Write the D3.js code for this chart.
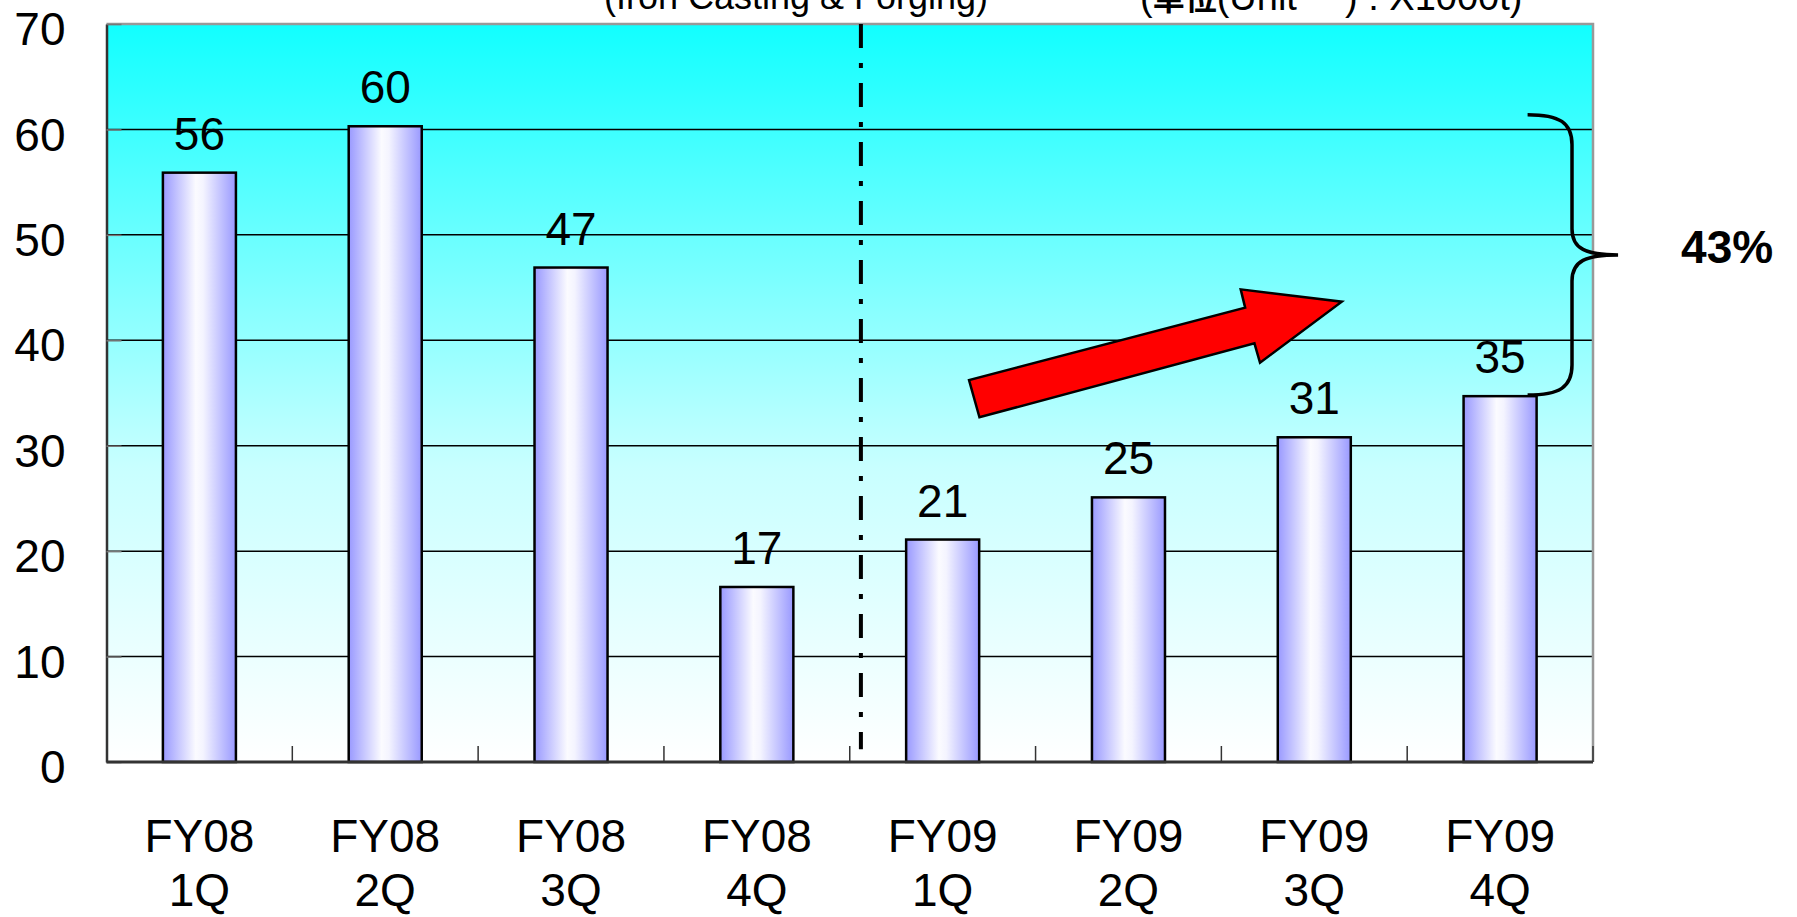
<!DOCTYPE html>
<html>
<head>
<meta charset="utf-8">
<script src="https://cdn.jsdelivr.net/npm/d3@7"></script>
<style>
    html, body { margin: 0; padding: 0; background: #fff; }
    svg text { font-family: "Liberation Sans", Arial, "Noto Sans CJK JP", sans-serif; }
</style>
</head>
<body>
<div id="svgHolder"></div>
<script>
// ------------------------------
// data
// ------------------------------
var categories = ["FY08 1Q", "FY08 2Q", "FY08 3Q", "FY08 4Q", "FY09 1Q", "FY09 2Q", "FY09 3Q", "FY09 4Q"];
var values = [55.9, 60.3, 46.9, 16.6, 21.1, 25.1, 30.8, 34.7];
var yTicks = [0, 10, 20, 30, 40, 50, 60, 70];
var subtitleLeft = "(Iron Casting & Forging)";
// unit note, split in pieces: [text, font size, bold]
var subtitleRight = [["(", 38, false], ["単位", 32, true], ["(Unit", 38, false], [") : X1000t)", 38, false]];
var growthLabel = "43%";

// annotation shapes, in [category position, value] units
var arrowPoints = [[4.698, 32.7], [4.642, 36.23], [6.128, 43.09], [6.104, 44.83],
                   [6.648, 43.66], [6.208, 37.87], [6.178, 39.71]];
var dividerAt = 4.06;
var braceRange = [61.4, 34.8];

var docWidth = 1797, docHeight = 917;
var margin = { top: 24, right: 204, bottom: 155, left: 106.5 }
    , width = docWidth - margin.left - margin.right
    , height = docHeight - margin.top - margin.bottom;

var x = d3.scaleBand().domain(categories).range([0, width]).padding(0);
var xLin = d3.scaleLinear().domain([0, categories.length]).range([0, width]);
var y = d3.scaleLinear().domain([0, 70]).range([height, 0]);
var barWidth = x.bandwidth() * 0.393;

var chart = d3.select('#svgHolder')
    .append('svg')
    .attr('width', docWidth)
    .attr('height', docHeight);

var defs = chart.append('defs');

// background: cyan at top fading to white
var bgGradient = defs.append('linearGradient')
    .attr('id', 'bggradient')
    .attr('x1', 0).attr('y1', 0).attr('x2', 0).attr('y2', 1);
[[0, '#11ffff'], [0.4, '#8cffff'], [0.6, '#c8ffff'], [1, '#ffffff']].forEach(function (s) {
    bgGradient.append('stop').attr('offset', s[0]).attr('stop-color', s[1]);
});

// bar: blue edges, white centre
var barGradient = defs.append('linearGradient')
    .attr('id', 'bargradient')
    .attr('x1', 0).attr('y1', 0).attr('x2', 1).attr('y2', 0);
[[0, '#9999ff'], [0.45, '#fbfbff'], [0.55, '#f4f4ff'], [1, '#9999ff']].forEach(function (s) {
    barGradient.append('stop').attr('offset', s[0]).attr('stop-color', s[1]);
});

var main = chart.append('g')
    .attr('transform', 'translate(' + margin.left + ',' + margin.top + ')');

main.append('rect')
    .attr('width', width)
    .attr('height', height)
    .attr('fill', 'url(#bggradient)');

// grid lines
main.append('g')
    .selectAll('line')
    .data(yTicks.filter(function (d) { return d > 0 && d < 70; }))
    .enter().append('line')
    .attr('x1', 0).attr('x2', width)
    .attr('y1', function (d) { return y(d); })
    .attr('y2', function (d) { return y(d); })
    .attr('stroke', '#000')
    .attr('stroke-width', 1.5);

// top and right border
main.append('path')
    .attr('d', 'M0,' + y(70) + 'H' + width + 'V' + y(0))
    .attr('fill', 'none')
    .attr('stroke', '#999')
    .attr('stroke-width', 2.5);

// y axis
var yAxis = d3.axisLeft(y).tickValues(yTicks).tickSizeInner(-15).tickSizeOuter(0).tickPadding(41);
var yg = main.append('g').call(yAxis);
yg.select('.domain').attr('stroke', '#333').attr('stroke-width', 2.5);
yg.selectAll('.tick line').attr('stroke', '#777').attr('stroke-width', 1.5);
yg.selectAll('.tick text')
    .attr('font-size', 46)
    .attr('dy', '0.45em')
    .attr('fill', '#000');

// x boundary ticks (pointing up)
main.append('g')
    .selectAll('line')
    .data(d3.range(1, categories.length + 1))
    .enter().append('line')
    .attr('x1', function (d) { return xLin(d); })
    .attr('x2', function (d) { return xLin(d); })
    .attr('y1', y(0)).attr('y2', y(0) - 16)
    .attr('stroke', '#333')
    .attr('stroke-width', 1.5);

// bars
main.append('g')
    .selectAll('rect')
    .data(values)
    .enter().append('rect')
    .attr('x', function (d, i) { return x(categories[i]) + (x.bandwidth() - barWidth) / 2; })
    .attr('y', function (d) { return y(d); })
    .attr('width', barWidth)
    .attr('height', function (d) { return y(0) - y(d); })
    .attr('fill', 'url(#bargradient)')
    .attr('stroke', '#000')
    .attr('stroke-width', 2.5);

// value labels
main.append('g')
    .selectAll('text')
    .data(values)
    .enter().append('text')
    .attr('x', function (d, i) { return x(categories[i]) + x.bandwidth() / 2; })
    .attr('y', function (d) { return y(d) - 23; })
    .attr('text-anchor', 'middle')
    .attr('font-size', 46)
    .text(function (d) { return d3.format('.0f')(d); });

// x axis line
main.append('line')
    .attr('x1', 0).attr('x2', width)
    .attr('y1', y(0)).attr('y2', y(0))
    .attr('stroke', '#333')
    .attr('stroke-width', 3);

// category labels, two lines each
var xg = main.append('g')
    .selectAll('text')
    .data(categories)
    .enter().append('text')
    .attr('text-anchor', 'middle')
    .attr('font-size', 46)
    .attr('transform', function (d) { return 'translate(' + (x(d) + x.bandwidth() / 2) + ',' + (y(0) + 90) + ')'; });
xg.append('tspan').attr('x', 0).attr('y', 0).text(function (d) { return d.split(' ')[0]; });
xg.append('tspan').attr('x', 0).attr('y', 54).text(function (d) { return d.split(' ')[1]; });

// dash-dot divider between FY08 and FY09
main.append('line')
    .attr('x1', xLin(dividerAt)).attr('x2', xLin(dividerAt))
    .attr('y1', y(70)).attr('y2', y(1.2))
    .attr('stroke', '#000')
    .attr('stroke-width', 4)
    .attr('stroke-dasharray', '24,15,5,15');

// red growth arrow
main.append('path')
    .datum(arrowPoints)
    .attr('d', d3.line()
        .x(function (d) { return xLin(d[0]); })
        .y(function (d) { return y(d[1]); })
        .curve(d3.curveLinearClosed))
    .attr('fill', '#ff0000')
    .attr('stroke', '#000')
    .attr('stroke-width', 2.5)
    .attr('stroke-linejoin', 'miter');

// curly brace from FY08 2Q level down to FY09 4Q
var bx0 = xLin(7.648), bx1 = xLin(7.887), bx2 = xLin(8.135);
var yT = y(braceRange[0]), yB = y(braceRange[1]), yM = (yT + yB) / 2;
var brace = d3.path();
brace.moveTo(bx0, yT);
brace.bezierCurveTo(bx0 + 32, yT, bx1, yT + 8, bx1, yT + 30);
brace.lineTo(bx1, yM - 26);
brace.bezierCurveTo(bx1, yM - 6, bx1 + 14, yM, bx2, yM);
brace.bezierCurveTo(bx1 + 14, yM, bx1, yM + 6, bx1, yM + 26);
brace.lineTo(bx1, yB - 30);
brace.bezierCurveTo(bx1, yB - 8, bx0 + 32, yB, bx0, yB);
main.append('path')
    .attr('d', brace.toString())
    .attr('fill', 'none')
    .attr('stroke', '#000')
    .attr('stroke-width', 3.5);

main.append('text')
    .attr('x', xLin(8.135) + 63)
    .attr('y', yM + 8)
    .attr('font-size', 46)
    .attr('font-weight', 'bold')
    .text(growthLabel);

// subtitles, cut off at the top edge
chart.append('text')
    .attr('x', 796).attr('y', 9)
    .attr('text-anchor', 'middle')
    .attr('font-size', 36)
    .text(subtitleLeft);

var unitText = chart.append('text')
    .attr('x', 1140).attr('y', 10);
unitText.selectAll('tspan')
    .data(subtitleRight)
    .enter().append('tspan')
    .attr('x', function (d, i) { return i === 3 ? 1345 : null; })
    .attr('font-size', function (d) { return d[1]; })
    .attr('font-weight', function (d) { return d[2] ? 'bold' : 'normal'; })
    .text(function (d) { return d[0]; });
</script>
</body>
</html>
